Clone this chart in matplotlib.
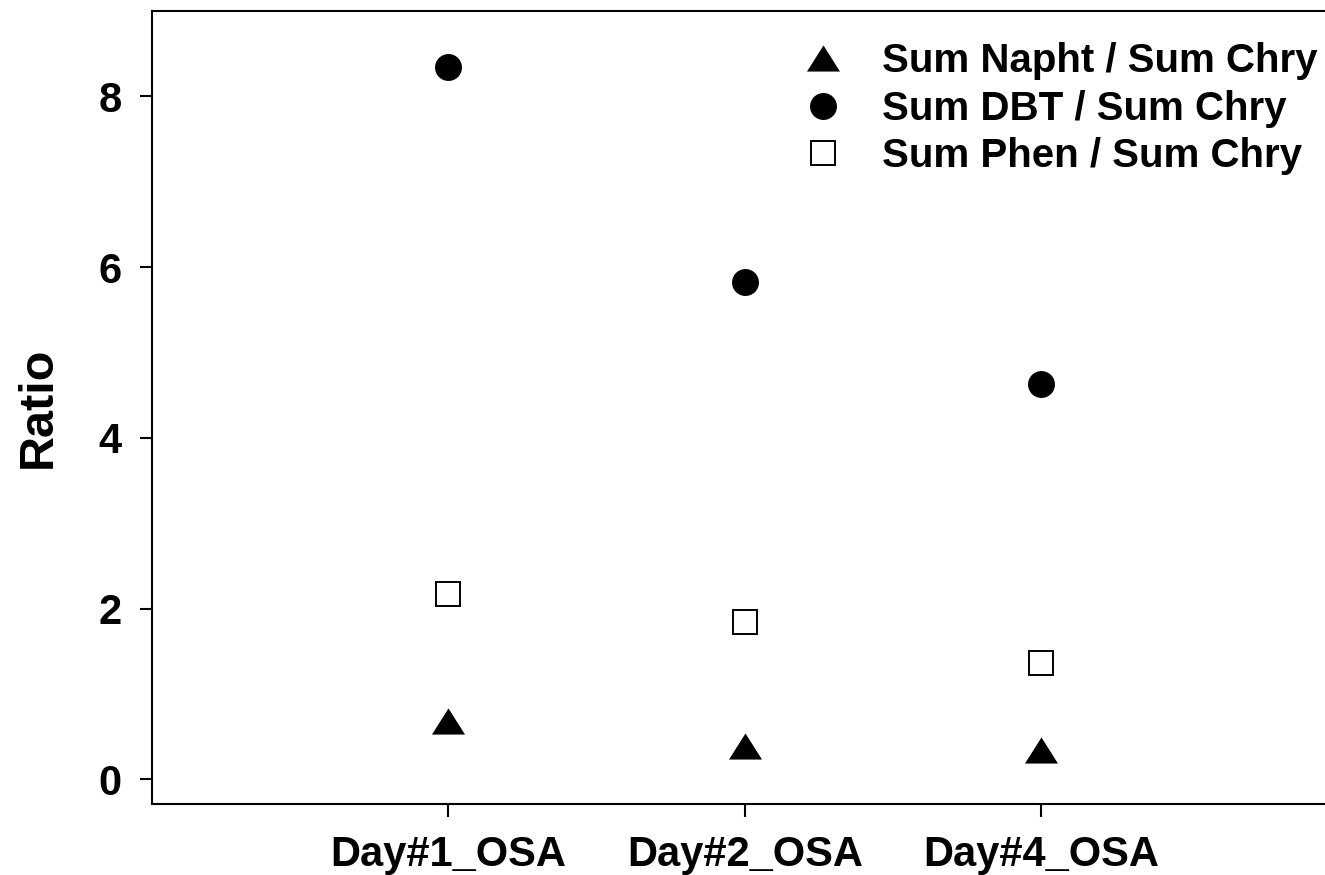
import matplotlib
matplotlib.use("Agg")
import matplotlib.pyplot as plt
import numpy as np

# sample days and ratio values
days = ["Day#1_OSA", "Day#2_OSA", "Day#4_OSA"]
napht_chry = [0.68, 0.39, 0.34]
dbt_chry = [8.34, 5.83, 4.63]
phen_chry = [2.17, 1.84, 1.36]

plt.rcParams['font.family'] = ['Liberation Sans', 'DejaVu Sans']
plt.rcParams['font.weight'] = 'bold'

fig = plt.figure(figsize=(13.25, 8.75), dpi=100)
# axes runs a little past the right edge of the canvas
ax = fig.add_axes([0.1147, 0.0811, 0.895, 0.9063])

x = np.arange(1, len(days) + 1)

# flattened triangle
tri = [(-1, -0.79), (1, -0.79), (0, 0.79), (-1, -0.79)]

ax.plot(x, napht_chry, linestyle='none', marker=tri, markersize=23.8,
        color='black', markeredgewidth=0, label='Sum Napht / Sum Chry')
ax.plot(x, dbt_chry, linestyle='none', marker='o', markersize=19.4,
        color='black', markeredgewidth=0, label='Sum DBT / Sum Chry')
ax.plot(x, phen_chry, linestyle='none', marker='s', markersize=17.5,
        markerfacecolor='white', markeredgecolor='black', markeredgewidth=1.4,
        label='Sum Phen / Sum Chry')

ax.set_xlim(0, 4)
ax.set_ylim(-0.29, 9.0)
ax.set_xticks(x)
ax.set_xticklabels(days)
ax.set_yticks([0, 2, 4, 6, 8])

for s in ax.spines.values():
    s.set_linewidth(1.5)
ax.tick_params(axis='both', direction='out', length=9, width=1.5,
               labelsize=30)
ax.tick_params(axis='y', pad=13)
ax.tick_params(axis='x', pad=13)

ax.set_ylabel('Ratio', fontsize=35, fontweight='bold', labelpad=27)

leg = ax.legend(loc='upper right', bbox_to_anchor=(1318 / 1325, 1 - 42 / 875),
                bbox_transform=fig.transFigure, frameon=False,
                fontsize=29, handlelength=1.0, handletextpad=0.97,
                labelspacing=0.24, borderpad=0, borderaxespad=0,
                numpoints=1)
for t in leg.get_texts():
    t.set_fontweight('bold')

fig.savefig('out.png', dpi=100)
